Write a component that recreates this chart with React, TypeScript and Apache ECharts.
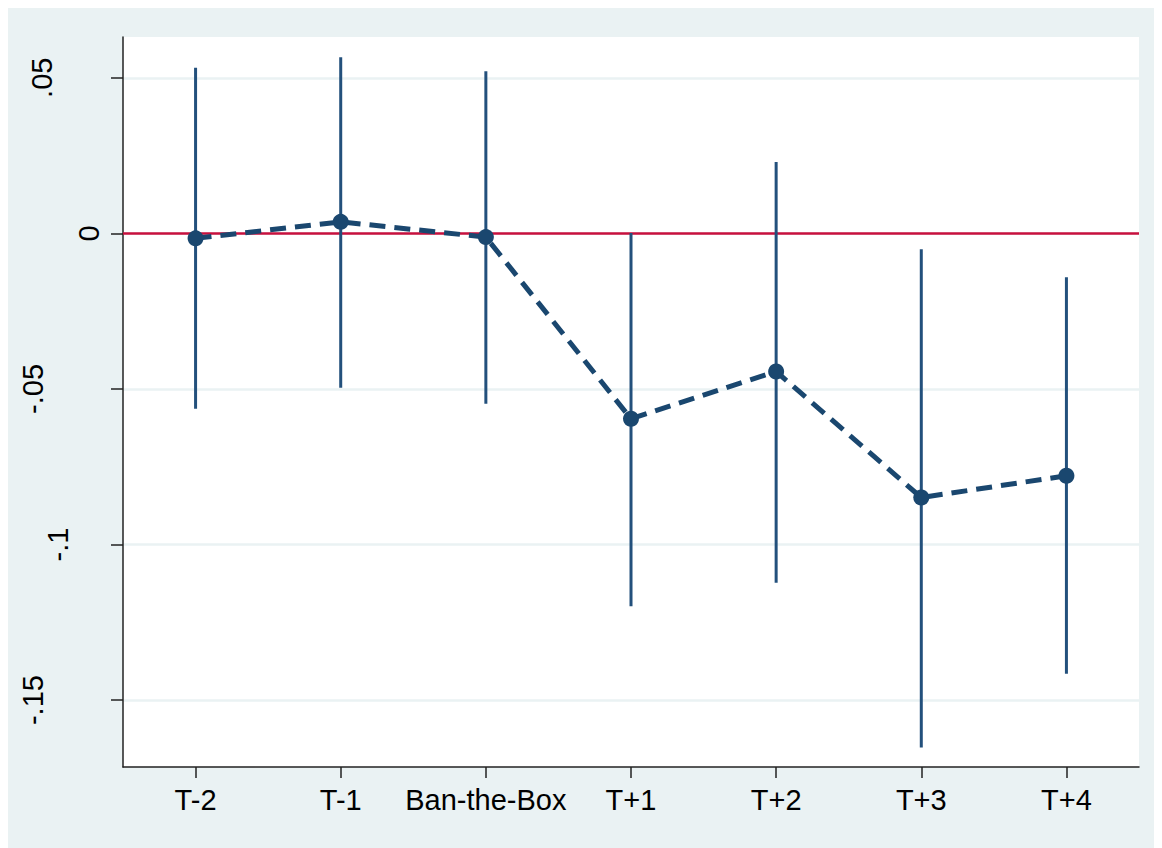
import React, { useEffect, useRef } from "react";
import * as echarts from "echarts";

// ---- data ----
const categories = ["T-2", "T-1", "Ban-the-Box", "T+1", "T+2", "T+3", "T+4"];
const estimates = [-0.0016, 0.0037, -0.0012, -0.0596, -0.0444, -0.0849, -0.0779];
const ciUpper = [0.0532, 0.0566, 0.0521, 0.0001, 0.0229, -0.0051, -0.0141];
const ciLower = [-0.0564, -0.0496, -0.0548, -0.1198, -0.1123, -0.1652, -0.1415];
const yTickValues = [-0.15, -0.1, -0.05, 0, 0.05];
const yTickLabels = ["-.15", "-.1", "-.05", "0", ".05"];

// ---- style ----
const FONT = "'Liberation Sans', Arial, Helvetica, sans-serif";
const NAVY = "#1A476F";
const BAR = "#23507C";
const RED = "#C8103E";
const BG = "#EAF2F3";
const yLabelShift = [56, 31, 56, 0, 47];

export default function App() {
  const ref = useRef<HTMLDivElement>(null);
  useEffect(() => {
    if (!ref.current) return;
    const chart = echarts.init(ref.current, null, { renderer: "svg" });
    const rich: Record<string, any> = {};
    yTickLabels.forEach((_, i) => {
      rich["l" + i] = {
        fontSize: 29,
        fontFamily: FONT,
        color: "#000",
        padding: [0, 0, yLabelShift[i], 0],
      };
    });
    const barData = categories.map((_, i) => [i, ciLower[i], ciUpper[i]]);
    chart.setOption({
      animation: false,
      backgroundColor: BG,
      grid: {
        left: 115,
        top: 29,
        right: 23,
        bottom: 81,
        show: true,
        backgroundColor: "#fff",
        borderWidth: 0,
      },
      xAxis: {
        type: "category",
        data: categories,
        boundaryGap: true,
        axisLine: { show: true, onZero: false, lineStyle: { color: "#222", width: 1.5 } },
        axisTick: { show: true, alignWithLabel: true, length: 11, lineStyle: { color: "#222", width: 1.5 } },
        axisLabel: { fontSize: 29, fontFamily: FONT, color: "#000", margin: 18, interval: 0 },
        splitLine: { show: false },
      },
      yAxis: {
        type: "value",
        min: -0.1715,
        max: 0.0631,
        axisLine: { show: true, lineStyle: { color: "#222", width: 1.5 } },
        axisTick: { show: true, length: 12, customValues: yTickValues, lineStyle: { color: "#222", width: 1.5 } },
        axisLabel: {
          customValues: yTickValues,
          rotate: 90,
          margin: 20,
          formatter: (v: number) => {
            const i = yTickValues.findIndex((t) => Math.abs(t - v) < 1e-9);
            return i >= 0 ? "{l" + i + "|" + yTickLabels[i] + "}" : "";
          },
          rich,
        },
        splitLine: { show: true, lineStyle: { color: BG, width: 2.5 } },
      },
      series: [
        {
          type: "custom",
          name: "ci",
          data: barData,
          z: 2,
          renderItem: (params: any, api: any) => {
            const x = api.value(0);
            const p1 = api.coord([x, api.value(1)]);
            const p2 = api.coord([x, api.value(2)]);
            return {
              type: "line",
              shape: { x1: p1[0], y1: p1[1], x2: p2[0], y2: p2[1] },
              style: { stroke: BAR, lineWidth: 3 },
            };
          },
        },
        {
          type: "line",
          name: "est",
          data: estimates,
          z: 4,
          symbol: "circle",
          symbolSize: 16,
          itemStyle: { color: NAVY },
          lineStyle: { color: NAVY, width: 5, type: [16, 9] },
          markLine: {
            silent: true,
            symbol: "none",
            label: { show: false },
            lineStyle: { color: RED, width: 2.5, type: "solid" },
            data: [{ yAxis: 0 }],
            z: 1,
          },
        },
      ],
    });
    return () => chart.dispose();
  }, []);
  return <div ref={ref} style={{ width: 1154, height: 840 }} />;
}
